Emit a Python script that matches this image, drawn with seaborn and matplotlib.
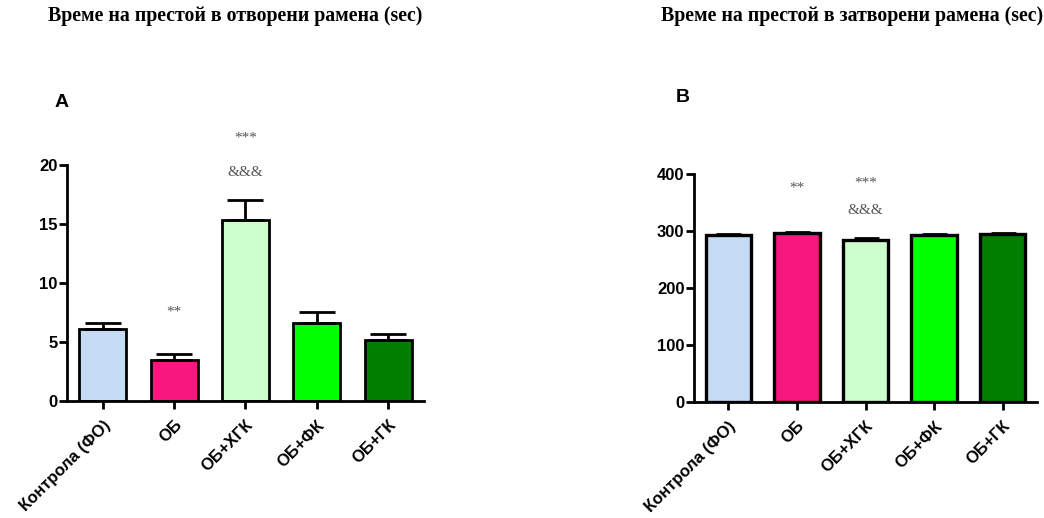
import numpy as np
import pandas as pd
import matplotlib
matplotlib.use("Agg")
import matplotlib.pyplot as plt
import seaborn as sns

sns.set_theme(style="white")
plt.rcParams["font.family"] = ["Liberation Sans", "DejaVu Sans"]
plt.rcParams["text.color"] = "black"
plt.rcParams["xtick.color"] = "black"
plt.rcParams["ytick.color"] = "black"

groups = ["Контрола (ФО)", "ОБ", "ОБ+ХГК", "ОБ+ФК", "ОБ+ГК"]
colors = ["#c6dcf6", "#f7177f", "#ccffcc", "#00ff00", "#007f00"]

open_mean = [6.1, 3.5, 15.3, 6.6, 5.15]
open_sem = [0.5, 0.45, 1.7, 0.95, 0.5]

closed_mean = [293, 296, 284, 293, 295]
closed_sem = [1.5, 1.5, 3.5, 1.5, 1.5]

# significance marks: (group index, text, y position in data units)
open_marks = [(1, "**", 7.5), (2, "***", 22.3), (2, "&&&", 19.4)]
closed_marks = [(1, "**", 375), (2, "***", 384), (2, "&&&", 336)]

title_open = "Време на престой в отворени рамена (sec)"
title_closed = "Време на престой в затворени рамена (sec)"

fig = plt.figure(figsize=(10.44, 5.18), dpi=100)
ax_a = fig.add_axes([0.0642, 0.2259, 0.3418, 0.4556])
ax_b = fig.add_axes([0.6648, 0.2239, 0.3285, 0.4408])


def draw_panel(ax, means, sems, ylim, yticks, marks, letter, letter_xy, title, title_x,
               edge_width, cap):
    df = pd.DataFrame({"group": groups, "value": means})
    sns.barplot(data=df, x="group", y="value", hue="group", palette=colors,
                order=groups, hue_order=groups, legend=False, width=0.66,
                saturation=1, edgecolor="black", linewidth=edge_width, ax=ax,
                errorbar=None)
    xs = np.arange(len(groups))
    ax.errorbar(xs, means, yerr=[np.zeros(len(sems)), sems], fmt="none",
                ecolor="black", elinewidth=2, capsize=cap, capthick=2, zorder=1)
    ax.set_xlim(-0.5, 4.5)
    ax.set_ylim(*ylim)
    ax.set_yticks(yticks)
    ax.set_xlabel("")
    ax.set_ylabel("")
    sns.despine(ax=ax)
    for s in ("left", "bottom"):
        ax.spines[s].set_linewidth(2)
        ax.spines[s].set_color("black")
    ax.tick_params(axis="both", direction="out", length=5.8, width=2, color="black",
                   labelsize=12, left=True, bottom=True)
    ax.tick_params(axis="y", pad=1)
    ax.tick_params(axis="x", pad=6)
    for lbl in ax.get_yticklabels():
        lbl.set_fontweight("bold")
    ax.set_xticks(xs)
    ax.set_xticklabels(groups, rotation=45, ha="right", rotation_mode="anchor",
                       fontweight="bold", fontsize=12)
    for i, m, yv in marks:
        ax.text(i, yv, m, ha="center", va="center", fontsize=11,
                color="#555555", family="Liberation Serif")
    ax.text(letter_xy[0], letter_xy[1], letter, transform=ax.transAxes, fontsize=14,
            fontweight="bold", ha="left", va="center")
    fig.text(title_x, 0.969, title, ha="center", va="center", fontsize=14.3,
             fontweight="bold", family="Liberation Serif")


draw_panel(ax_a, open_mean, open_sem, (0, 20), [0, 5, 10, 15, 20], open_marks,
           "A", (-0.036, 1.263), title_open, 0.225, 2, 13)
draw_panel(ax_b, closed_mean, closed_sem, (0, 400), [0, 100, 200, 300, 400], closed_marks,
           "B", (-0.052, 1.334), title_closed, 0.816, 2.4, 9)

fig.savefig("out.png", dpi=100)
